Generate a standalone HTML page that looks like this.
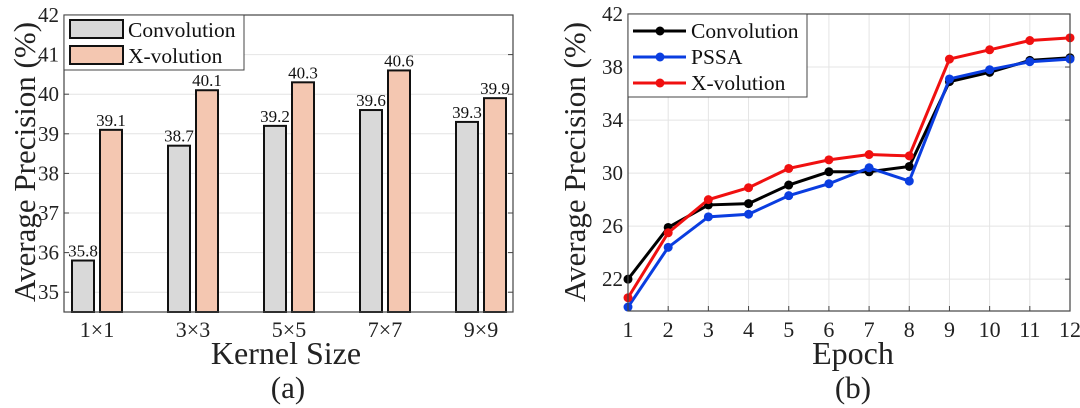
<!DOCTYPE html>
<html><head><meta charset="utf-8"><style>
body{margin:0;background:#fff;}
svg{display:block;font-family:"Liberation Serif",serif;}
</style></head><body>
<svg id="s" width="1080" height="408"></svg>
<script>
const barCats=["1×1","3×3","5×5","7×7","9×9"];
const convVals=[35.8,38.7,39.2,39.6,39.3];
const xvolVals=[39.1,40.1,40.3,40.6,39.9];
const barTicks=[35,36,37,38,39,40,41,42];
const epochs=[1,2,3,4,5,6,7,8,9,10,11,12];
const lineConv=[22.0,25.9,27.6,27.7,29.1,30.1,30.1,30.5,36.9,37.6,38.5,38.7];
const linePSSA=[19.9,24.4,26.7,26.9,28.3,29.2,30.4,29.4,37.1,37.8,38.4,38.6];
const lineXvol=[20.6,25.5,28.0,28.9,30.35,31.0,31.4,31.3,38.6,39.3,40.0,40.2];
const lineTicks=[22,26,30,34,38,42];

const s=document.getElementById('s');const NS="http://www.w3.org/2000/svg";
function el(t,a,txt,p){const e=document.createElementNS(NS,t);for(const k in a)e.setAttribute(k,a[k]);if(txt!=null)e.textContent=txt;(p||s).appendChild(e);return e;}

// ---- Left bar chart ----
const L={x0:64,x1:513,y0:15,y1:312,min:34.5,max:42};
const ly=v=>L.y1-(v-L.min)/(L.max-L.min)*(L.y1-L.y0);
const lx=i=>97+i*96;
barTicks.forEach(t=>{
 const g=el('line',{x1:L.x0,x2:L.x1,y1:ly(t),y2:ly(t),stroke:'#e4e4e4','stroke-width':1});
 
 el('line',{x1:L.x1-5,x2:L.x1,y1:ly(t),y2:ly(t),stroke:'#444'});
 el('line',{x1:L.x0,x2:L.x0+5,y1:ly(t),y2:ly(t),stroke:'#444'});
 const tx=el('text',{x:L.x0-5,y:ly(t)+7,'text-anchor':'end','font-size':21,fill:'#222'},String(t));
 
});
barCats.forEach((c,i)=>{
 const cx=lx(i);
 [[convVals[i],cx-25,'#d9d9d9','bar-convolution'],[xvolVals[i],cx+3,'#f4c7b1','bar-xvolution']].forEach(([v,x,f,n])=>{
  const r=el('rect',{x:x,y:ly(v),width:22,height:L.y1-ly(v),fill:f,stroke:'#111','stroke-width':2});
  
  const t=el('text',{x:x+11,y:ly(v)-4,'text-anchor':'middle','font-size':17,fill:'#111'},v.toFixed(1));
  
 });
 const t=el('text',{x:cx,y:337,'text-anchor':'middle','font-size':22,fill:'#222'},c);
 
});
el('rect',{x:L.x0,y:L.y0,width:L.x1-L.x0,height:L.y1-L.y0,fill:'none',stroke:'#444','stroke-width':1.2});
{const lg=el('g',{});
el('rect',{x:64,y:15,width:180,height:55,fill:'#fff',stroke:'#444'},null,lg);
el('rect',{x:70,y:20,width:53,height:18,fill:'#d9d9d9',stroke:'#111','stroke-width':2},null,lg);
el('text',{x:128,y:37,'font-size':21.5,fill:'#111'},'Convolution',lg);
el('rect',{x:70,y:46,width:53,height:18,fill:'#f4c7b1',stroke:'#111','stroke-width':2},null,lg);
el('text',{x:128,y:63,'font-size':21.5,fill:'#111'},'X-volution',lg);}
{const t=el('text',{x:0,y:0,'text-anchor':'middle','font-size':31,fill:'#222',transform:'translate(35,162) rotate(-90)'},'Average Precision (%)');}
{const t=el('text',{x:286,y:364,'text-anchor':'middle','font-size':32,fill:'#222'},'Kernel Size');}
{const t=el('text',{x:288,y:398,'text-anchor':'middle','font-size':31,fill:'#222'},'(a)');}

// ---- Right line chart ----
const R={x0:628,x1:1070,y0:14,y1:311,min:19.6,max:42};
const ry=v=>R.y1-(v-R.min)/(R.max-R.min)*(R.y1-R.y0);
const rx=e=>R.x0+(e-1)/11*(R.x1-R.x0);
lineTicks.forEach(t=>{
 const g=el('line',{x1:R.x0,x2:R.x1,y1:ry(t),y2:ry(t),stroke:'#e4e4e4'});
 
 el('line',{x1:R.x1-5,x2:R.x1,y1:ry(t),y2:ry(t),stroke:'#444'});
 const tx=el('text',{x:R.x0-5,y:ry(t)+7,'text-anchor':'end','font-size':21,fill:'#222'},String(t));
 
});
epochs.forEach(e=>{
 const g=el('line',{x1:rx(e),x2:rx(e),y1:R.y0,y2:R.y1,stroke:'#e4e4e4'});
 
 el('line',{x1:rx(e),x2:rx(e),y1:R.y1-5,y2:R.y1,stroke:'#444'});
 const tx=el('text',{x:rx(e),y:337,'text-anchor':'middle','font-size':22,fill:'#222'},String(e));
 
});
[[lineConv,'#000','series-convolution'],[linePSSA,'#0a3de0','series-pssa'],[lineXvol,'#f01010','series-xvolution']].forEach(([d,c,n])=>{
 const g=el('g',{});
 el('polyline',{points:d.map((v,i)=>rx(epochs[i])+','+ry(v)).join(' '),fill:'none',stroke:c,'stroke-width':3},null,g);
 d.forEach((v,i)=>{const p=el('circle',{cx:rx(epochs[i]),cy:ry(v),r:4.5,fill:c},null,g);});
});
el('rect',{x:R.x0,y:R.y0,width:R.x1-R.x0,height:R.y1-R.y0,fill:'none',stroke:'#444','stroke-width':1.2});
{const lg=el('g',{});
el('rect',{x:628,y:14,width:179,height:83,fill:'#fff',stroke:'#444'},null,lg);
[['Convolution','#000',31],['PSSA','#0a3de0',57],['X-volution','#f01010',83]].forEach(([t,c,y])=>{
 el('line',{x1:633,x2:686,y1:y,y2:y,stroke:c,'stroke-width':3},null,lg);
 el('circle',{cx:660,cy:y,r:4.5,fill:c},null,lg);
 el('text',{x:691,y:y+7,'font-size':21.5,fill:'#111'},t,lg);
});}
{const t=el('text',{x:0,y:0,'text-anchor':'middle','font-size':31,fill:'#222',transform:'translate(585,162) rotate(-90)'},'Average Precision (%)');}
{const t=el('text',{x:853,y:364,'text-anchor':'middle','font-size':32,fill:'#222'},'Epoch');}
{const t=el('text',{x:853,y:398,'text-anchor':'middle','font-size':31,fill:'#222'},'(b)');}
</script>
</body></html>
